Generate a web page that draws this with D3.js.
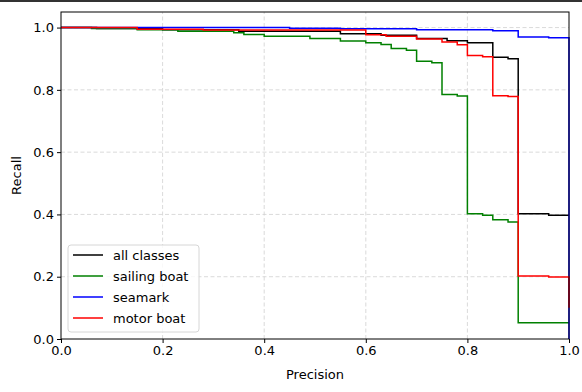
<!DOCTYPE html>
<html>
<head>
<meta charset="utf-8">
<script src="https://cdn.jsdelivr.net/npm/d3@7"></script>
<style>
    body { margin: 0; background: #fff; }
    text { font-family: "DejaVu Sans", sans-serif; fill: #000; }
</style>
</head>
<body>
<div id="chart"></div>
<script>
// series, in draw order (red ends up on top)
var seriesNames = ["all classes", "sailing boat", "seamark", "motor boat"];
var seriesColors = ["#000000", "#008000", "#0000ff", "#ff0000"];

var allPrecision = [0, 0.07, 0.2, 0.35, 0.55, 0.63, 0.7, 0.76, 0.8, 0.85, 0.88, 0.9, 0.96, 1.0];
var allRecall = [1.0, 0.997, 0.993, 0.988, 0.98, 0.975, 0.965, 0.958, 0.951, 0.905, 0.9, 0.402, 0.397, 0.397];

var sailPrecision = [0, 0.06, 0.15, 0.23, 0.34, 0.36, 0.4, 0.49, 0.55, 0.6, 0.63, 0.65, 0.68, 0.7, 0.73, 0.75, 0.78, 0.8, 0.83, 0.85, 0.88, 0.9, 1.0];
var sailRecall = [1.0, 0.997, 0.993, 0.988, 0.983, 0.978, 0.972, 0.965, 0.957, 0.951, 0.946, 0.933, 0.927, 0.892, 0.887, 0.785, 0.78, 0.402, 0.397, 0.383, 0.376, 0.052, 0.052];

var seaPrecision = [0, 0.45, 0.55, 0.7, 0.85, 0.9, 0.96, 1.0];
var seaRecall = [1.0, 0.998, 0.996, 0.993, 0.99, 0.97, 0.967, 0.0];

var motorPrecision = [0, 0.15, 0.28, 0.6, 0.64, 0.7, 0.75, 0.78, 0.8, 0.83, 0.85, 0.88, 0.9, 0.96, 1.0];
var motorRecall = [1.0, 0.995, 0.992, 0.977, 0.972, 0.963, 0.954, 0.945, 0.91, 0.906, 0.781, 0.779, 0.202, 0.199, 0.1];

var xTicks = [0, 0.2, 0.4, 0.6, 0.8, 1.0];
var yTicks = [0, 0.2, 0.4, 0.6, 0.8, 1.0];

var width = 582, height = 392;
var margin = {top: 12, right: 13, bottom: 53, left: 61};

var seriesData = [
    d3.zip(allPrecision, allRecall),
    d3.zip(sailPrecision, sailRecall),
    d3.zip(seaPrecision, seaRecall),
    d3.zip(motorPrecision, motorRecall)
];

var svg = d3.select("#chart").append("svg")
    .attr("width", width)
    .attr("height", height);

// dark strip along the top edge of the reference shot
svg.append("rect")
    .attr("x", 0).attr("y", 0)
    .attr("width", width).attr("height", 2)
    .attr("fill", "#333");

var x = d3.scaleLinear().domain([0, 1]).range([margin.left, width - margin.right]);
var y = d3.scaleLinear().domain([0, 1.05]).range([height - margin.bottom, margin.top]);

// grid
var grid = svg.append("g").attr("class", "grid");
grid.selectAll("line.gx")
    .data(xTicks.slice(1, -1))
    .enter().append("line")
    .attr("x1", function(d) { return x(d); })
    .attr("x2", function(d) { return x(d); })
    .attr("y1", y(0)).attr("y2", y(1.05))
    .attr("stroke", "#d0d0d0")
    .attr("stroke-width", 0.8)
    .attr("stroke-dasharray", "4,2.5");
grid.selectAll("line.gy")
    .data(yTicks.slice(1))
    .enter().append("line")
    .attr("y1", function(d) { return y(d); })
    .attr("y2", function(d) { return y(d); })
    .attr("x1", x(0)).attr("x2", x(1))
    .attr("stroke", "#d0d0d0")
    .attr("stroke-width", 0.8)
    .attr("stroke-dasharray", "4,2.5");

var line = d3.line()
    .x(function(d) { return x(d[0]); })
    .y(function(d) { return y(d[1]); })
    .curve(d3.curveStepAfter);

svg.append("g").selectAll("path")
    .data(seriesData)
    .enter().append("path")
    .attr("d", line)
    .attr("fill", "none")
    .attr("stroke", function(d, i) { return seriesColors[i]; })
    .attr("stroke-width", 1.5);

// frame
svg.append("rect")
    .attr("x", x(0)).attr("y", y(1.05))
    .attr("width", x(1) - x(0)).attr("height", y(0) - y(1.05))
    .attr("fill", "none")
    .attr("stroke", "#000")
    .attr("stroke-width", 1);

var xAxis = svg.append("g")
    .attr("transform", "translate(0," + y(0) + ")")
    .call(d3.axisBottom(x).tickValues(xTicks).tickFormat(d3.format(".1f")).tickSizeOuter(0).tickSize(4).tickPadding(3));
var yAxis = svg.append("g")
    .attr("transform", "translate(" + x(0) + ",0)")
    .call(d3.axisLeft(y).tickValues(yTicks).tickFormat(d3.format(".1f")).tickSizeOuter(0).tickSize(4).tickPadding(3));
[xAxis, yAxis].forEach(function(a) {
    a.select(".domain").remove();
    a.selectAll("text").attr("font-size", "13px").attr("font-family", "DejaVu Sans, sans-serif").attr("fill", "#000");
    a.selectAll("line").attr("stroke", "#000");
});

svg.append("text")
    .attr("x", (x(0) + x(1)) / 2)
    .attr("y", 379)
    .attr("text-anchor", "middle")
    .attr("font-size", "13px")
    .text("Precision");
svg.append("text")
    .attr("transform", "translate(21," + (y(0) + y(1.05)) / 2 + ") rotate(-90)")
    .attr("text-anchor", "middle")
    .attr("font-size", "13px")
    .text("Recall");

// legend
var legend = svg.append("g").attr("transform", "translate(68,245)");
legend.append("rect")
    .attr("width", 131).attr("height", 87)
    .attr("rx", 3)
    .attr("fill", "#fff")
    .attr("fill-opacity", 0.8)
    .attr("stroke", "#d6d6d6");
var items = legend.selectAll("g.item")
    .data(seriesNames)
    .enter().append("g")
    .attr("class", "item")
    .attr("transform", function(d, i) { return "translate(0," + (10 + i * 21) + ")"; });
items.append("line")
    .attr("x1", 5).attr("x2", 35)
    .attr("stroke", function(d, i) { return seriesColors[i]; })
    .attr("stroke-width", 1.5);
items.append("text")
    .attr("x", 45)
    .attr("dy", "0.35em")
    .attr("font-size", "13px")
    .text(function(d) { return d; });
</script>
</body>
</html>
